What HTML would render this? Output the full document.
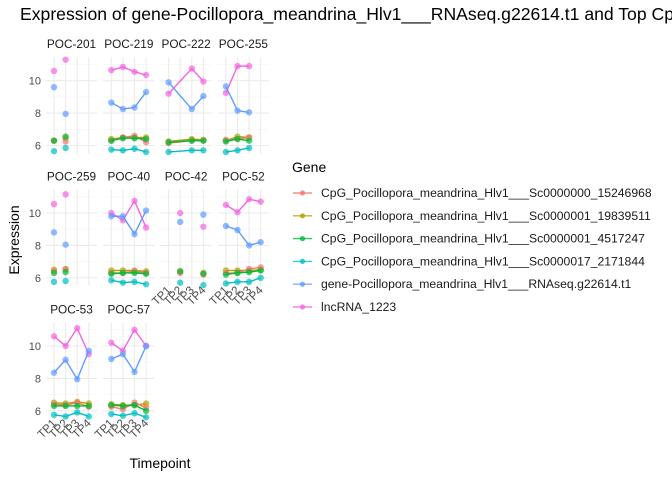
<!DOCTYPE html>
<html><head><meta charset="utf-8"><style>body{margin:0;background:#fff}svg{display:block;font-family:"Liberation Sans",sans-serif}</style></head>
<body>
<svg id="s" width="672" height="480" viewBox="0 0 672 480"></svg>
<script>
const S=document.getElementById('s');let h='';
h+='<text x="20" y="20" font-size="17.6" fill="#000">Expression of gene-Pocillopora_meandrina_Hlv1___RNAseq.g22614.t1 and Top CpGs</text>';
const cols=['#F564E3','#619CFF','#B79F00','#F8766D','#00BA38','#00BFC4'];
const P=[
['POC-201',[0,1],0,[[10.6,11.3],[9.6,7.95],[6.3,6.45],[6.3,6.25],[6.3,6.55],[5.65,5.85]]],
['POC-219',[0,1,2,3],1,[[10.65,10.85,10.55,10.35],[8.65,8.25,8.35,9.3],[6.4,6.5,6.5,6.5],[6.3,6.5,6.6,6.2],[6.3,6.45,6.45,6.4],[5.75,5.7,5.8,5.6]]],
['POC-222',[0,2,3],1,[[9.2,10.75,9.95],[9.9,8.25,9.05],[6.25,6.4,6.35],[6.15,6.3,6.3],[6.2,6.3,6.3],[5.6,5.7,5.7]]],
['POC-255',[0,1,2],1,[[9.25,10.9,10.9],[9.65,8.15,8.05],[6.3,6.55,6.5],[6.35,6.4,6.5],[6.25,6.4,6.3],[5.6,5.7,5.85]]],
['POC-259',[0,1],0,[[10.55,11.15],[8.8,8.05],[6.5,6.55],[6.4,6.5],[6.3,6.35],[5.75,5.8]]],
['POC-40',[0,1,2,3],1,[[10,9.55,10.75,9.1],[9.8,9.8,8.7,10.15],[6.45,6.45,6.45,6.4],[6.3,6.3,6.4,6.3],[6.25,6.3,6.3,6.25],[5.85,5.7,5.75,5.6]]],
['POC-42',[1,3],0,[[10,9.15],[9.45,9.9],[6.4,6.3],[6.3,6.2],[6.4,6.25],[5.7,5.55]]],
['POC-52',[0,1,2,3],1,[[10.5,10.05,10.85,10.7],[9.2,8.95,8.0,8.2],[6.45,6.45,6.45,6.5],[6.3,6.3,6.55,6.65],[6.2,6.3,6.35,6.45],[5.65,5.75,5.75,6.0]]],
['POC-53',[0,1,2,3],1,[[10.6,10.0,11.1,9.5],[8.35,9.15,7.95,9.7],[6.5,6.45,6.55,6.45],[6.4,6.35,6.5,6.25],[6.3,6.3,6.3,6.3],[5.75,5.65,5.9,5.65]]],
['POC-57',[0,1,2,3],1,[[10.2,9.7,11.0,10.0],[9.2,9.5,8.4,10.0],[6.4,6.35,6.35,6.45],[6.25,6.1,6.5,6.2],[6.35,6.3,6.35,6.0],[5.8,5.7,5.85,5.6]]]
];
const y10=[80.7,213,346],U=16.2;
P.forEach((p,i)=>{
 const r=Math.floor(i/4),c=i%4;const x0=54+c*57.3;
 const Y=v=>y10[r]-(v-10)*U;const X=t=>x0+t*11.6;
 const top=Y(11.45),bot=Y(5.5);
 for(const v of [7,9,11])h+=`<line x1="${x0-8}" x2="${x0+43}" y1="${Y(v)}" y2="${Y(v)}" stroke="#f4f4f4" stroke-width="0.6"/>`;
 for(const v of [6,8,10])h+=`<line x1="${x0-8}" x2="${x0+43}" y1="${Y(v)}" y2="${Y(v)}" stroke="#ebebeb" stroke-width="1.1"/>`;
 for(let t=0;t<4;t++)h+=`<line x1="${X(t)}" x2="${X(t)}" y1="${top}" y2="${bot}" stroke="#ebebeb" stroke-width="1.1"/>`;
 h+=`<text x="${x0+17.5}" y="${top-9}" font-size="11.8" text-anchor="middle" fill="#1a1a1a">${p[0]}</text>`;
 if(c==0)[6,8,10].forEach(v=>h+=`<text x="41" y="${Y(v)+4}" font-size="11" text-anchor="end" fill="#4d4d4d">${v}</text>`);
 if(r==2||(r==1&&c>=2))for(let t=0;t<4;t++)h+=`<text transform="translate(${X(t)+3},${bot+5}) rotate(-45)" font-size="11.5" text-anchor="end" fill="#4d4d4d">TP${t+1}</text>`;
 p[3].forEach((s,k)=>{
  if(p[2])h+=`<polyline fill="none" stroke="${cols[k]}" stroke-width="1.4" points="${s.map((v,j)=>X(p[1][j])+','+Y(v)).join(' ')}"/>`;
  s.forEach((v,j)=>h+=`<circle cx="${X(p[1][j])}" cy="${Y(v)}" r="3.2" fill="${cols[k]}" fill-opacity="0.7"/>`);
 });
});
h+='<text transform="translate(19,240) rotate(-90)" font-size="14" text-anchor="middle">Expression</text>';
h+='<text x="160" y="468" font-size="14" text-anchor="middle">Timepoint</text>';
h+='<text x="292" y="172" font-size="14">Gene</text>';
const L=['CpG_Pocillopora_meandrina_Hlv1___Sc0000000_15246968','CpG_Pocillopora_meandrina_Hlv1___Sc0000001_19839511','CpG_Pocillopora_meandrina_Hlv1___Sc0000001_4517247','CpG_Pocillopora_meandrina_Hlv1___Sc0000017_2171844','gene-Pocillopora_meandrina_Hlv1___RNAseq.g22614.t1','lncRNA_1223'];
const LC=['#F8766D','#B79F00','#00BA38','#00BFC4','#619CFF','#F564E3'];
L.forEach((t,i)=>{const y=193+i*22.8;
 h+=`<line x1="293" x2="312" y1="${y}" y2="${y}" stroke="${LC[i]}" stroke-width="1.4" stroke-opacity="0.8"/><circle cx="302.5" cy="${y}" r="2.6" fill="${LC[i]}" fill-opacity="0.8"/>`;
 h+=`<text x="321" y="${y+4}" font-size="12.2" fill="#1a1a1a">${t}</text>`;});
S.innerHTML=h;
</script>
</body></html>
